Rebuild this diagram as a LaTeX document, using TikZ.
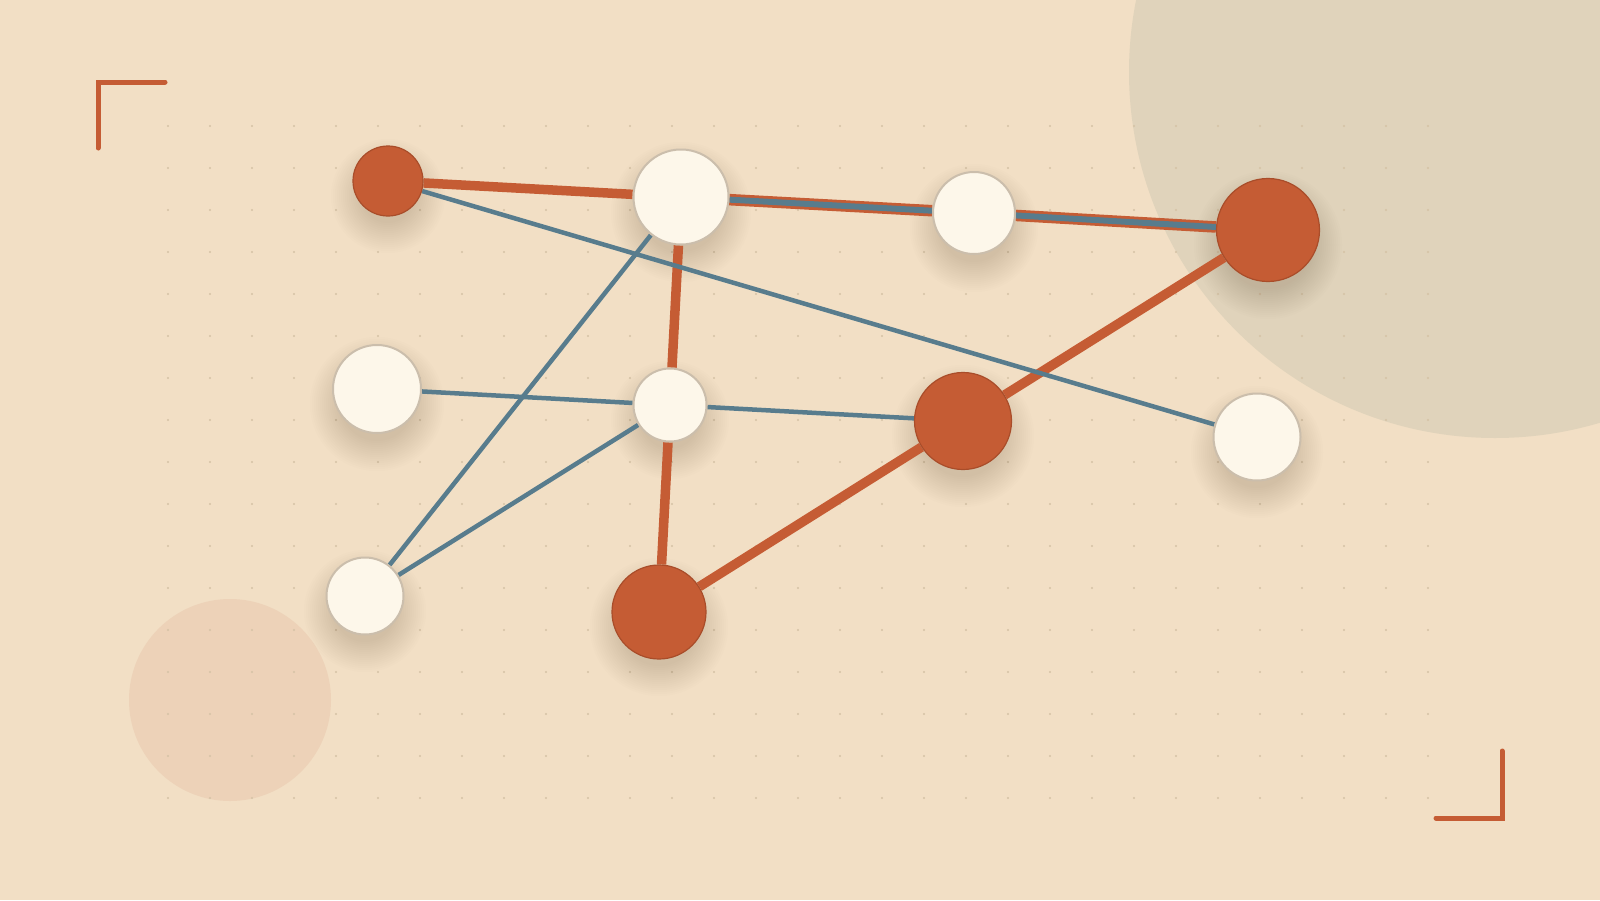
\documentclass[tikz,border=0pt]{standalone}
\definecolor{bgc}{HTML}{F2DFC5}
\definecolor{bigc}{HTML}{E0D3BB}
\definecolor{pinkc}{HTML}{EDD2B8}
\definecolor{dotc}{HTML}{D5C2A5}
\definecolor{orc}{HTML}{C55C34}
\definecolor{orb}{HTML}{A94D2A}
\definecolor{bluc}{HTML}{587C8D}
\definecolor{wfill}{HTML}{FDF7EA}
\definecolor{wbord}{HTML}{CBBEAC}
\definecolor{shc}{HTML}{86684A}
\pgfdeclarelayer{bglayer}
\pgfdeclarelayer{shadowlayer}
\pgfdeclarelayer{edgelayer}
\pgfsetlayers{bglayer,shadowlayer,edgelayer,main}
\tikzset{
  wnode/.style={circle, fill=wfill, draw=wbord, line width=2pt, inner sep=0pt},
  onode/.style={circle, fill=orc, draw=orb, line width=1.2pt, inner sep=0pt},
  oedge/.style={draw=orc, line width=9.5pt},
  bedge/.style={draw=bluc, line width=4.5pt},
  dedgeo/.style={draw=orc, line width=11.5pt},
  dedgeb/.style={draw=bluc, line width=6pt},
  cornerline/.style={draw=orc, line width=5pt, line cap=round},
  dotmark/.style={fill=dotc},
  shadowdisc/.style={fill=shc, opacity=0.014},
}
\begin{document}
\begin{tikzpicture}[x=1pt,y=-1pt]
\useasboundingbox (0,0) rectangle (1600,900);
% nodes
\node[onode, minimum size=70pt] (A) at (388,181) {};
\node[wnode, minimum size=95pt] (B) at (681,197) {};
\node[wnode, minimum size=82pt] (C) at (974,213) {};
\node[onode, minimum size=103pt] (D) at (1268,230) {};
\node[wnode, minimum size=88pt] (E) at (377,389) {};
\node[wnode, minimum size=73pt] (F) at (670,405) {};
\node[wnode, minimum size=77pt] (G) at (365,596) {};
\node[onode, minimum size=94pt] (H) at (659,612) {};
\node[onode, minimum size=97pt] (I) at (963,421) {};
\node[wnode, minimum size=87pt] (J) at (1257,437) {};
% background
\begin{pgfonlayer}{bglayer}
  \begin{scope}
    \clip (0,0) rectangle (1600,900);
    \fill[bgc] (0,0) rectangle (1600,900);
    \fill[bigc] (1495,72) circle[radius=366];
    \fill[pinkc] (230,700) circle[radius=101];
    \foreach \i in {4,...,34} {
      \foreach \j in {3,...,19} {
        \fill[dotmark] (42*\i,42*\j) circle[radius=1.2];
      }
    }
    \draw[cornerline] (165,82) -- (98,82) -- (98,148);
    \draw[cornerline] (1436,818) -- (1502,818) -- (1502,751);
  \end{scope}
\end{pgfonlayer}
% shadows
\begin{pgfonlayer}{shadowlayer}
  \foreach \n/\r in {A/35,B/48,C/42,D/52,E/45,F/37,G/39,H/47,I/49,J/44} {
    \foreach \k in {0,...,15} {
      \fill[shadowdisc] ([yshift=-15pt]\n.center) circle[radius={\r+22-2*\k}];
    }
  }
\end{pgfonlayer}
% edges
\begin{pgfonlayer}{edgelayer}
  \draw[oedge] (A) -- (B);
  \draw[oedge] (B) -- (F);
  \draw[oedge] (F) -- (H);
  \draw[oedge] (H) -- (I);
  \draw[oedge] (I) -- (D);
  \draw[dedgeo] (B) -- (C);
  \draw[dedgeo] (C) -- (D);
  \draw[bedge] (A) -- (J);
  \draw[bedge] (E) -- (F);
  \draw[bedge] (F) -- (I);
  \draw[bedge] (B) -- (G);
  \draw[bedge] (F) -- (G);
  \draw[dedgeb] (B) -- (C);
  \draw[dedgeb] (C) -- (D);
\end{pgfonlayer}
\end{tikzpicture}
\end{document}
